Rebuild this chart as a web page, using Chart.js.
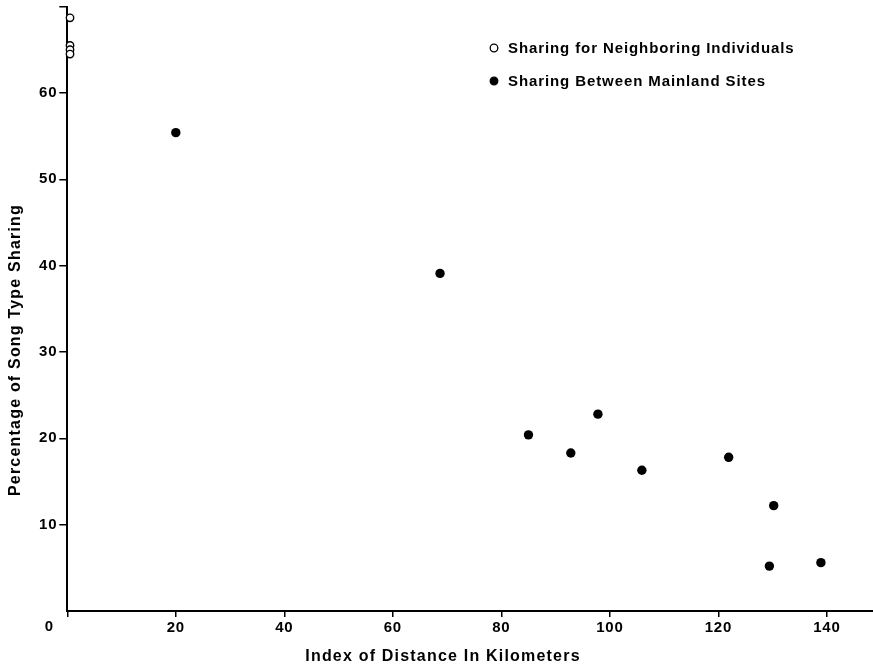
<!DOCTYPE html>
<html lang="en">
<head>
<meta charset="UTF-8">
<title>Song Type Sharing vs Distance</title>
<script src="https://cdn.jsdelivr.net/npm/chart.js"></script>
<style>
    html, body {
        margin: 0;
        padding: 0;
        background: #fff;
    }
    .chart-container {
        position: relative;
        width: 873px;
        height: 665px;
    }
</style>
</head>
<body>
<div class="chart-container">
    <canvas id="sharingChart"></canvas>
</div>

<script>
// neighbouring individuals (plotted on the axis, distance ~0)
const neighborX = [0.5, 0.5, 0.5, 0.5];
const neighborY = [68.7, 65.5, 65.0, 64.5];

// mainland site pairs
const mainlandX = [20.0, 68.7, 85.0, 92.8, 97.8, 105.9, 121.9, 130.2, 129.4, 138.9];
const mainlandY = [55.4, 39.1, 20.4, 18.3, 22.8, 16.3, 17.8, 12.2, 5.2, 5.6];

const xTicks = [0, 20, 40, 60, 80, 100, 120, 140];
const yTicks = [0, 10, 20, 30, 40, 50, 60, 70];
const yLabelled = [10, 20, 30, 40, 50, 60];

const seriesLabels = ['Sharing for Neighboring Individuals', 'Sharing Between Mainland Sites'];
const xTitle = 'Index of Distance In Kilometers';
const yTitle = 'Percentage of Song Type Sharing';
const cornerLabel = '0';

const FONT = "'Liberation Sans', Arial, Helvetica, sans-serif";

const toPoints = (xs, ys) => xs.map((x, i) => ({ x: x, y: ys[i] }));

// axis titles, corner "0" and the legend are drawn here
const decorations = {
    id: 'decorations',
    beforeDraw(chart) {
        chart.ctx.letterSpacing = '0.8px';
    },
    afterDraw(chart) {
        const ctx = chart.ctx;
        const xs = chart.scales.x;
        const ys = chart.scales.y;
        ctx.save();
        ctx.fillStyle = '#000';

        // corner label
        ctx.font = 'bold 15px ' + FONT;
        ctx.letterSpacing = '0.8px';
        ctx.textAlign = 'center';
        ctx.textBaseline = 'middle';
        ctx.fillText(cornerLabel, xs.getPixelForValue(0) - 18, ys.getPixelForValue(0) + 16);

        // x title
        ctx.font = 'bold 16px ' + FONT;
        ctx.letterSpacing = '1.2px';
        ctx.fillText(xTitle, 443, 657);

        // y title
        ctx.save();
        ctx.translate(16, 350);
        ctx.rotate(-Math.PI / 2);
        ctx.fillText(yTitle, 0, 0);
        ctx.restore();

        // legend
        ctx.font = 'bold 15px ' + FONT;
        ctx.letterSpacing = '0.9px';
        ctx.textAlign = 'left';
        const rows = [48, 81];
        chart.data.datasets.forEach((ds, i) => {
            const y = rows[i];
            ctx.beginPath();
            ctx.arc(494, y, 3.8, 0, Math.PI * 2);
            ctx.fillStyle = ds.backgroundColor;
            ctx.fill();
            ctx.lineWidth = 1.3;
            ctx.strokeStyle = '#000';
            ctx.stroke();
            ctx.fillStyle = '#000';
            ctx.fillText(ds.label, 508, y + 1);
        });
        ctx.restore();
    }
};

const chart = new Chart(document.getElementById('sharingChart'), {
    type: 'scatter',
    data: {
        datasets: [{
            label: seriesLabels[0],
            data: toPoints(neighborX, neighborY),
            backgroundColor: '#fff',
            borderColor: '#000',
            borderWidth: 1.4,
            pointRadius: 3.7,
            clip: false
        }, {
            label: seriesLabels[1],
            data: toPoints(mainlandX, mainlandY),
            backgroundColor: '#000',
            borderColor: '#000',
            borderWidth: 0,
            pointRadius: 4.7,
            clip: false
        }]
    },
    options: {
        responsive: true,
        maintainAspectRatio: false,
        animation: false,
        layout: {
            autoPadding: false,
            padding: { top: 6.6, right: 0, bottom: 0, left: 0 }
        },
        plugins: {
            legend: { display: false },
            tooltip: { enabled: false }
        },
        scales: {
            x: {
                type: 'linear',
                min: 0,
                max: 148.5,
                afterBuildTicks: s => { s.ticks = xTicks.map(v => ({ value: v })); },
                afterFit: s => {
                    s.height = 54;
                    s.paddingLeft = 0;
                    s.paddingRight = 0;
                },
                ticks: {
                    autoSkip: false,
                    maxRotation: 0,
                    padding: 2,
                    color: '#000',
                    font: { family: FONT, size: 15, weight: 'bold' },
                    callback: v => (v === 0 ? '' : v)
                },
                grid: {
                    drawOnChartArea: false,
                    drawTicks: true,
                    tickLength: 6,
                    color: '#000',
                    lineWidth: 1.5
                },
                border: { color: '#000', width: 2 }
            },
            y: {
                type: 'linear',
                min: 0,
                max: 70,
                afterBuildTicks: s => { s.ticks = yTicks.map(v => ({ value: v })); },
                afterFit: s => {
                    s.width = 67.3;
                    s.paddingTop = 0;
                    s.paddingBottom = 0;
                },
                ticks: {
                    autoSkip: false,
                    padding: 2,
                    color: '#000',
                    font: { family: FONT, size: 15, weight: 'bold' },
                    callback: v => (yLabelled.includes(v) ? v : '')
                },
                grid: {
                    drawOnChartArea: false,
                    drawTicks: true,
                    tickLength: 8,
                    color: c => (c.tick && c.tick.value === 0 ? 'rgba(0,0,0,0)' : '#000'),
                    lineWidth: 1.5
                },
                border: { color: '#000', width: 2 }
            }
        }
    },
    plugins: [decorations]
});
</script>
</body>
</html>
